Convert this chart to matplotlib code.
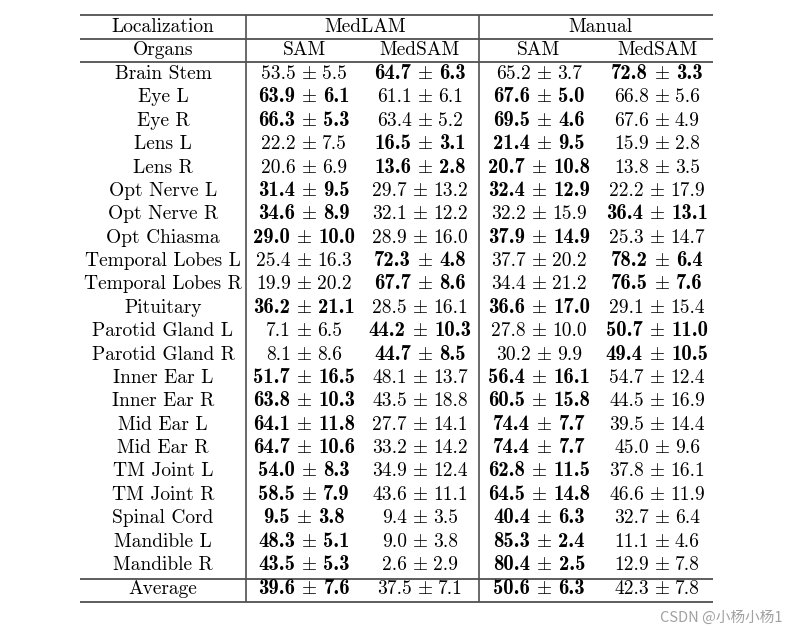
import matplotlib
matplotlib.use("Agg")
import matplotlib.pyplot as plt

plt.rcParams['mathtext.fontset'] = 'cm'

organs = ["Brain Stem", "Eye L", "Eye R", "Lens L", "Lens R", "Opt Nerve L",
          "Opt Nerve R", "Opt Chiasma", "Temporal Lobes L", "Temporal Lobes R",
          "Pituitary", "Parotid Gland L", "Parotid Gland R", "Inner Ear L",
          "Inner Ear R", "Mid Ear L", "Mid Ear R", "TM Joint L", "TM Joint R",
          "Spinal Cord", "Mandible L", "Mandible R"]

medlam_sam_mean = [53.5, 63.9, 66.3, 22.2, 20.6, 31.4, 34.6, 29.0, 25.4, 19.9, 36.2,
                   7.1, 8.1, 51.7, 63.8, 64.1, 64.7, 54.0, 58.5, 9.5, 48.3, 43.5]
medlam_sam_std = [5.5, 6.1, 5.3, 7.5, 6.9, 9.5, 8.9, 10.0, 16.3, 20.2, 21.1,
                  6.5, 8.6, 16.5, 10.3, 11.8, 10.6, 8.3, 7.9, 3.8, 5.1, 5.3]
medlam_medsam_mean = [64.7, 61.1, 63.4, 16.5, 13.6, 29.7, 32.1, 28.9, 72.3, 67.7, 28.5,
                      44.2, 44.7, 48.1, 43.5, 27.7, 33.2, 34.9, 43.6, 9.4, 9.0, 2.6]
medlam_medsam_std = [6.3, 6.1, 5.2, 3.1, 2.8, 13.2, 12.2, 16.0, 4.8, 8.6, 16.1,
                     10.3, 8.5, 13.7, 18.8, 14.1, 14.2, 12.4, 11.1, 3.5, 3.8, 2.9]
manual_sam_mean = [65.2, 67.6, 69.5, 21.4, 20.7, 32.4, 32.2, 37.9, 37.7, 34.4, 36.6,
                   27.8, 30.2, 56.4, 60.5, 74.4, 74.4, 62.8, 64.5, 40.4, 85.3, 80.4]
manual_sam_std = [3.7, 5.0, 4.6, 9.5, 10.8, 12.9, 15.9, 14.9, 20.2, 21.2, 17.0,
                  10.0, 9.9, 16.1, 15.8, 7.7, 7.7, 11.5, 14.8, 6.3, 2.4, 2.5]
manual_medsam_mean = [72.8, 66.8, 67.6, 15.9, 13.8, 22.2, 36.4, 25.3, 78.2, 76.5, 29.1,
                      50.7, 49.4, 54.7, 44.5, 39.5, 45.0, 37.8, 46.6, 32.7, 11.1, 12.9]
manual_medsam_std = [3.3, 5.6, 4.9, 2.8, 3.5, 17.9, 13.1, 14.7, 6.4, 7.6, 15.4,
                     11.0, 10.5, 12.4, 16.9, 14.4, 9.6, 16.1, 11.9, 6.4, 4.6, 7.8]
# 1 = SAM entry bold, 0 = MedSAM entry bold
medlam_sam_bold = [0, 1, 1, 0, 0, 1, 1, 1, 0, 0, 1, 0, 0, 1, 1, 1, 1, 1, 1, 1, 1, 1]
manual_sam_bold = [0, 1, 1, 1, 1, 1, 0, 1, 0, 0, 1, 0, 0, 1, 1, 1, 1, 1, 1, 1, 1, 1]

avg_label = "Average"
avg_mean = [39.6, 37.5, 50.6, 42.3]
avg_std = [7.6, 7.1, 6.3, 7.8]
avg_bold = [1, 0, 1, 0]

header_top = ["Localization", "MedLAM", "Manual"]
header_sub = ["Organs", "SAM", "MedSAM", "SAM", "MedSAM"]

fig = plt.figure(figsize=(8.0, 6.37), dpi=100)
ax = fig.add_axes([0, 0, 1, 1])
ax.set_xlim(0, 800)
ax.set_ylim(637, 0)
ax.axis('off')
renderer = fig.canvas.get_renderer()

FS = 14.0
FSB = 14.9
EM = FS * 100 / 72.0
x_left, x_right = 80, 713
col_x = [163, 304, 420, 539, 657]
top_x = [163, 365, 600]
vlines = [246, 479]
y_rules = [15, 38.7, 62.3, 579, 602]
y_hdr1, y_hdr2 = 31.7, 55
y_row0, dy = 79, 23.38
y_avg = 594
lc = '#505050'


def cell(x, y, s):
    ax.text(x, y, s, ha='center', va='baseline', fontsize=FS,
            family='cmr10', color='black')


def width(t):
    return t.get_window_extent(renderer).width


def val(x, y, m, s, bold):
    fam = 'cmb10' if bold else 'cmr10'
    fs = FSB if bold else FS
    t1 = ax.text(0, y, '%.1f' % m, ha='left', va='baseline', fontsize=fs,
                 family=fam, color='black')
    t2 = ax.text(0, y, r'$\pm$', ha='left', va='baseline', fontsize=FS, color='black')
    t3 = ax.text(0, y, '%.1f' % s, ha='left', va='baseline', fontsize=fs,
                 family=fam, color='black')
    gap = (0.32 if bold else 0.26) * EM
    w1, w2, w3 = width(t1), width(t2), width(t3)
    x0 = x - (w1 + gap + w2 + gap + w3) / 2
    t1.set_x(x0)
    t2.set_x(x0 + w1 + gap)
    t3.set_x(x0 + w1 + gap + w2 + gap)


# rules
for yr in y_rules:
    ax.plot([x_left, x_right], [yr, yr], color=lc, lw=1.3, solid_capstyle='butt')
for vx in vlines:
    ax.plot([vx, vx], [y_rules[0], y_rules[-1]], color=lc, lw=1.2,
            solid_capstyle='butt')

# headers
for xx, h in zip(top_x, header_top):
    cell(xx, y_hdr1, h)
for xx, h in zip(col_x, header_sub):
    cell(xx, y_hdr2, h)

for i, org in enumerate(organs):
    y = y_row0 + i * dy
    cell(col_x[0], y, org)
    val(col_x[1], y, medlam_sam_mean[i], medlam_sam_std[i], medlam_sam_bold[i] == 1)
    val(col_x[2], y, medlam_medsam_mean[i], medlam_medsam_std[i], medlam_sam_bold[i] == 0)
    val(col_x[3], y, manual_sam_mean[i], manual_sam_std[i], manual_sam_bold[i] == 1)
    val(col_x[4], y, manual_medsam_mean[i], manual_medsam_std[i], manual_sam_bold[i] == 0)

cell(col_x[0], y_avg, avg_label)
for j in range(4):
    val(col_x[j + 1], y_avg, avg_mean[j], avg_std[j], avg_bold[j] == 1)

ax.text(782, 618, "CSDN @小杨小杨1", ha='right', va='center', fontsize=10.5,
        color='#a0a0a0', family=['Noto Sans CJK SC', 'DejaVu Sans'])

fig.savefig('out.png', dpi=100)
